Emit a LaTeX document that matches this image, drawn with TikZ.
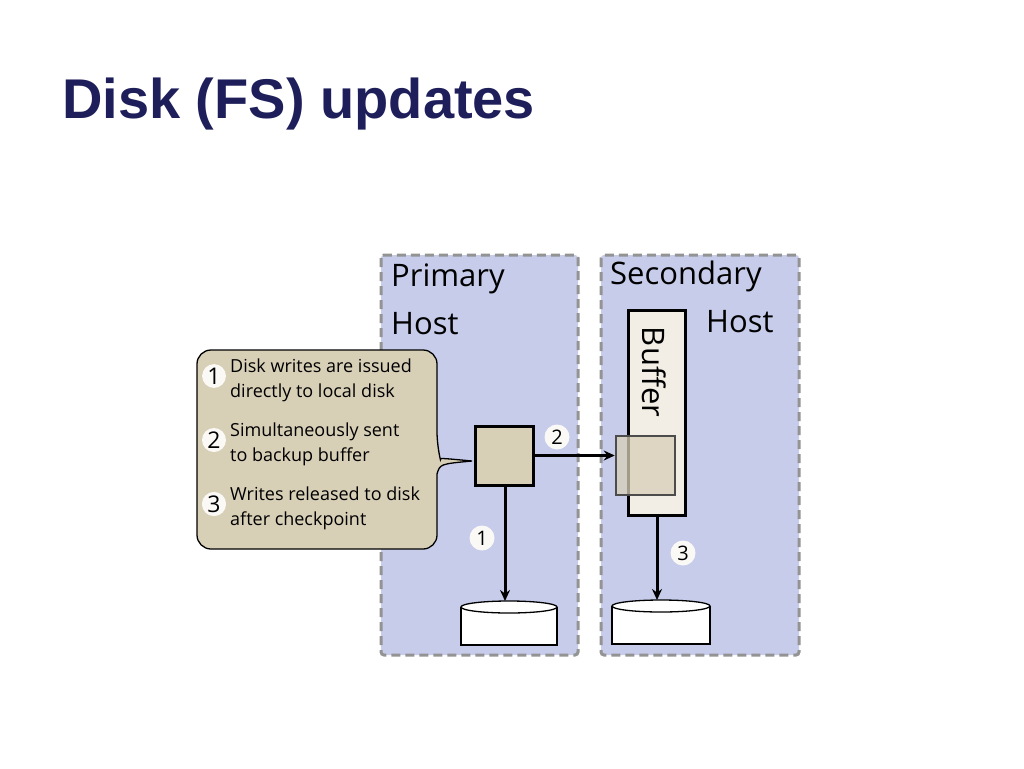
\documentclass[tikz,border=0pt]{standalone}
\usepackage{fontspec}
\setmainfont{Open Sans}
\newfontfamily\titlefont{Liberation Sans}
\usetikzlibrary{arrows.meta}
\definecolor{hostblue}{HTML}{C6CCEA}
\definecolor{tan}{HTML}{D8CFB7}
\definecolor{bufcol}{HTML}{F2EEE6}
\definecolor{navy}{HTML}{1E1E5A}
\begin{document}
\begin{tikzpicture}[x=1pt,y=-1pt,
  host/.style={draw=gray!85,fill=hostblue,line width=3pt,dash pattern=on 9pt off 5pt,rounded corners=3pt},
  arr/.style={line width=3pt,-{Stealth[length=11pt,width=10pt]}},
  num/.style={circle,fill=white!88!tan,inner sep=1pt,minimum size=25pt,font=\fontsize{20}{20}\selectfont},
  lab/.style={font=\fontsize{31}{34}\selectfont,anchor=west,inner sep=0pt},
  ctext/.style={font=\fontsize{18}{24.5}\selectfont,align=left,anchor=north west,inner sep=0pt},
  disk/.style={draw,fill=white,line width=1.3pt}]
\useasboundingbox (0,0) rectangle (1024,768);
\node[anchor=base west,inner sep=0pt,text=navy,font=\titlefont\bfseries\fontsize{56}{56}\selectfont] (title) at (62,118) {Disk (FS) updates};
\draw[host] (381,255) rectangle (578,655);
\draw[host] (601,255) rectangle (799,655);
\node[lab] (p1) at (391,279) {Primary};
\node[lab] (p2) at (391,324) {Host};
\node[lab] (s1) at (610,276) {Secondary};
\node[lab] (s2) at (706,322) {Host};
% callout
\draw[fill=tan,line width=1.3pt,rounded corners=14pt] (197,350) -- (437,350) -- (437,446) [sharp corners] .. controls (440,458) .. (472,461) .. controls (440,464) .. (437,474) [rounded corners=14pt] -- (437,549) -- (197,549) -- cycle;
\foreach \n/\y/\t in {1/359/{Disk writes are issued\\directly to local disk},2/423/{Simultaneously sent\\to backup buffer},3/487/{Writes released to disk\\after checkpoint}}{
  \node[num,minimum size=23pt,font=\fontsize{23}{23}\selectfont] (c\n) at (214,\y+17) {\n};
  \node[ctext] (t\n) at (230,\y) {\t};
}
% primary block
\node[draw,fill=tan,line width=3pt,minimum width=58pt,minimum height=59pt,inner sep=0pt] (blk) at (504,455.5) {};
% buffer
\node[draw,fill=bufcol,line width=3pt,minimum width=57pt,minimum height=205pt,inner sep=0pt] (buf) at (656.5,412.5) {};
\node[rotate=-90,font=\fontsize{31}{34}\selectfont,inner sep=0pt] (buft) at (654,372) {Buffer};
\node[draw=black!70,fill=tan,fill opacity=0.75,line width=2.5pt,minimum width=59pt,minimum height=59pt,inner sep=0pt] (cp) at (645.5,465.5) {};
% disks
\draw[disk] (461,607) -- (461,645) -- (557,645) -- (557,607);
\draw[disk] (509,607) ellipse (48pt and 6pt);
\draw[disk] (612,606) -- (612,644) -- (710,644) -- (710,606);
\draw[disk] (661,606) ellipse (49pt and 6pt);
\coordinate (d1) at (505,601);
\coordinate (d2) at (657,600);
\draw[arr] (blk.south) ++(1,0) -- (d1);
\draw[arr] (blk.east) -- (cp.west |- blk.east);
\draw[arr] (buf.south) ++(0.5,0) -- (d2);
\node[num] (n1) at (482,538) {1};
\node[num] (n2) at (557,437) {2};
\node[num] (n3) at (683,553) {3};
\end{tikzpicture}
\end{document}
